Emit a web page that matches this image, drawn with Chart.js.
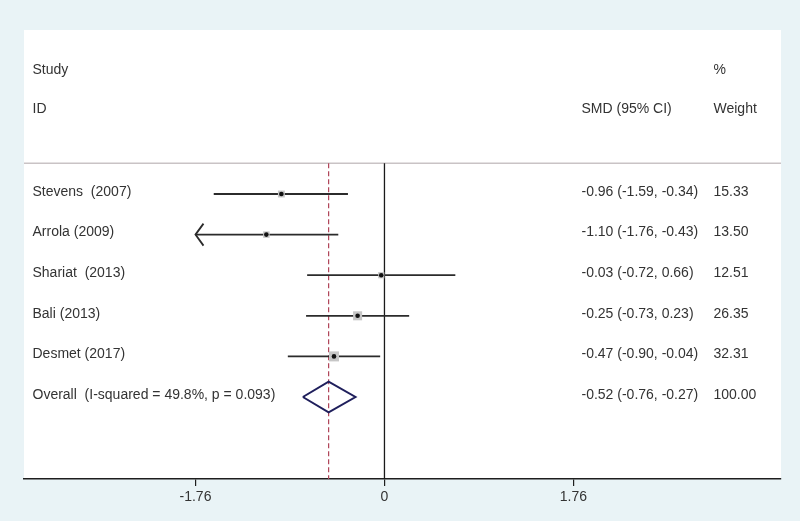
<!DOCTYPE html>
<html>
<head>
<meta charset="utf-8">
<script src="https://cdn.jsdelivr.net/npm/chart.js@4/dist/chart.umd.min.js"></script>
<style>
  html, body { margin: 0; padding: 0; background: #e9f3f6; }
  #wrap { width: 800px; height: 521px; }
</style>
</head>
<body>
<div id="wrap"><canvas id="c" width="800" height="521"></canvas></div>
<script>
// ---- data ----
const studies  = ["Stevens  (2007)", "Arrola (2009)", "Shariat  (2013)", "Bali (2013)", "Desmet (2017)"];
const smd      = [-0.96, -1.10, -0.03, -0.25, -0.47];
const ciLow    = [-1.59, -1.76, -0.72, -0.73, -0.90];
const ciHigh   = [-0.34, -0.43,  0.66,  0.23, -0.04];
const weights  = [15.33, 13.50, 12.51, 26.35, 32.31];
const overallLabel = "Overall  (I-squared = 49.8%, p = 0.093)";
const overall  = [-0.52, -0.76, -0.27];   // estimate, low, high
const overallWeight = 100.00;
const tickValues = [-1.76, 0, 1.76];
const headerLeft  = ["Study", "ID"];
const headerMid   = ["", "SMD (95% CI)"];
const headerRight = ["%", "Weight"];

// ---- layout constants ----
const X_MIN = -3.357, X_MAX = 3.693;
const Y_MIN = -4.04, Y_MAX = 7.02;
const HEADER_Y = [-3.05, -2.08];
const SEP_Y = -0.76;
const OVERALL_ROW = studies.length;
const ARROW_LIMIT = -1.76;
const COL_STUDY = 32.5, COL_CI = 581.5, COL_W = 713.5;
const FONT = '14px "Liberation Sans", Arial, Helvetica, sans-serif';
const TEXT_COLOR = '#333333';

const fmt = v => v.toFixed(2);

const ciDatasets = studies.map((s, i) => ({
  type: 'scatter',
  data: [{x: Math.max(ciLow[i], ARROW_LIMIT), y: i}, {x: ciHigh[i], y: i}],
  showLine: true, borderColor: '#2b2b2b', borderWidth: 1.8,
  pointRadius: 0, order: 2
}));

const boxSide = w => 1.76 * Math.sqrt(w);

const datasets = [
  {
    type: 'scatter', label: 'dots',
    data: smd.map((v, i) => ({x: v, y: i})),
    pointStyle: 'circle', pointRadius: 2.3, backgroundColor: '#111', borderWidth: 0, order: 0
  },
  {
    type: 'scatter', label: 'boxes',
    data: smd.map((v, i) => ({x: v, y: i})),
    pointStyle: 'rect', pointRadius: weights.map(w => boxSide(w) / 1.4142),
    backgroundColor: '#c6c6c6', borderWidth: 0, order: 1
  },
  ...ciDatasets,
  {
    type: 'scatter', label: 'diamond',
    data: [
      {x: overall[1], y: OVERALL_ROW},
      {x: overall[0], y: OVERALL_ROW - 0.38},
      {x: overall[2], y: OVERALL_ROW},
      {x: overall[0], y: OVERALL_ROW + 0.38},
      {x: overall[1], y: OVERALL_ROW}
    ],
    showLine: true, borderColor: '#1f1f5c', borderWidth: 2, pointRadius: 0, order: 2
  },
  {
    type: 'scatter', label: 'zero',
    data: [{x: 0, y: SEP_Y}, {x: 0, y: Y_MAX}],
    showLine: true, borderColor: '#1a1a1a', borderWidth: 1.3, pointRadius: 0, order: 3
  },
  {
    type: 'scatter', label: 'overallLine',
    data: [{x: overall[0], y: SEP_Y}, {x: overall[0], y: Y_MAX}],
    showLine: true, borderColor: '#b04458', borderWidth: 1.2, borderDash: [5, 3],
    pointRadius: 0, order: 3
  }
];

const decorPlugin = {
  id: 'decor',
  beforeDraw(chart) {
    const {ctx, chartArea: a, scales: {y}} = chart;
    ctx.save();
    ctx.fillStyle = '#e9f3f6';
    ctx.fillRect(0, 0, chart.width, chart.height);
    ctx.fillStyle = '#ffffff';
    ctx.fillRect(a.left, a.top, a.right - a.left, a.bottom - a.top);
    const sy = y.getPixelForValue(SEP_Y);
    ctx.strokeStyle = '#c9c3c5';
    ctx.lineWidth = 1.5;
    ctx.beginPath();
    ctx.moveTo(a.left, sy); ctx.lineTo(a.right, sy);
    ctx.stroke();
    ctx.restore();
  },
  afterDatasetsDraw(chart) {
    const {ctx, scales: {x, y}} = chart;
    ctx.save();
    // arrowheads for clipped CIs
    ctx.strokeStyle = '#2b2b2b';
    ctx.lineWidth = 1.8;
    studies.forEach((s, i) => {
      if (ciLow[i] <= ARROW_LIMIT) {
        const px = x.getPixelForValue(ARROW_LIMIT), py = y.getPixelForValue(i);
        ctx.beginPath();
        ctx.moveTo(px + 8, py - 11);
        ctx.lineTo(px, py);
        ctx.lineTo(px + 8, py + 11);
        ctx.stroke();
      }
    });
    // texts
    ctx.font = FONT;
    ctx.fillStyle = TEXT_COLOR;
    ctx.textBaseline = 'middle';
    ctx.textAlign = 'left';
    HEADER_Y.forEach((hy, k) => {
      const py = y.getPixelForValue(hy);
      ctx.fillText(headerLeft[k], COL_STUDY, py);
      if (headerMid[k]) ctx.fillText(headerMid[k], COL_CI, py);
      ctx.fillText(headerRight[k], COL_W, py);
    });
    studies.forEach((s, i) => {
      const py = y.getPixelForValue(i) - 2;
      ctx.fillText(s, COL_STUDY, py);
      ctx.fillText(`${fmt(smd[i])} (${fmt(ciLow[i])}, ${fmt(ciHigh[i])})`, COL_CI, py);
      ctx.fillText(fmt(weights[i]), COL_W, py);
    });
    const oy = y.getPixelForValue(OVERALL_ROW) - 2;
    ctx.fillText(overallLabel, COL_STUDY, oy);
    ctx.fillText(`${fmt(overall[0])} (${fmt(overall[1])}, ${fmt(overall[2])})`, COL_CI, oy);
    ctx.fillText(overallWeight.toFixed(2), COL_W, oy);
    ctx.restore();
  }
};

new Chart(document.getElementById('c'), {
  type: 'scatter',
  data: { datasets },
  options: {
    responsive: false,
    animation: false,
    devicePixelRatio: 1,
    layout: { padding: { left: 24, right: 19, top: 30, bottom: 0 } },
    plugins: { legend: { display: false }, tooltip: { enabled: false } },
    scales: {
      x: {
        type: 'linear', position: 'bottom', min: X_MIN, max: X_MAX,
        afterBuildTicks: s => { s.ticks = tickValues.map(v => ({value: v})); },
        afterFit: s => { s.height = 42; },
        border: { display: true, color: '#1e1e1e', width: 1.5 },
        grid: { drawOnChartArea: false, drawTicks: true, tickLength: 7, color: '#1e1e1e', lineWidth: 1.2 },
        ticks: {
          color: TEXT_COLOR, padding: 3, maxRotation: 0, autoSkip: false,
          font: { family: '"Liberation Sans", Arial, sans-serif', size: 14 },
          callback: v => String(v)
        }
      },
      y: {
        type: 'linear', display: false, reverse: true, min: Y_MIN, max: Y_MAX
      }
    }
  },
  plugins: [decorPlugin]
});
</script>
</body>
</html>
